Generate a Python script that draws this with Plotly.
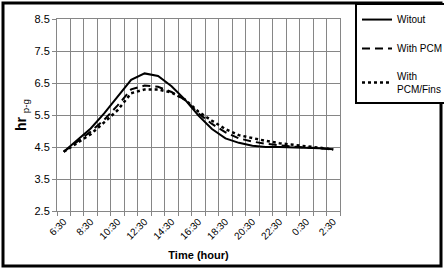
import plotly.graph_objects as go

categories = ["6:30", "7:30", "8:30", "9:30", "10:30", "11:30", "12:30", "13:30", "14:30",
              "15:30", "16:30", "17:30", "18:30", "19:30", "20:30", "21:30", "22:30",
              "23:30", "0:30", "1:30", "2:30"]
witout = [4.35, 4.72, 5.08, 5.55, 6.08, 6.6, 6.8, 6.72, 6.4, 5.98, 5.48, 5.06, 4.77, 4.63,
          4.54, 4.5, 4.5, 4.49, 4.48, 4.46, 4.43]
with_pcm = [4.35, 4.67, 4.98, 5.35, 5.8, 6.3, 6.42, 6.38, 6.22, 5.97, 5.55, 5.22, 4.96,
            4.77, 4.67, 4.6, 4.55, 4.51, 4.49, 4.46, 4.43]
with_fins = [4.35, 4.62, 4.9, 5.27, 5.65, 6.18, 6.3, 6.3, 6.2, 5.98, 5.6, 5.32, 5.06,
             4.87, 4.77, 4.69, 4.62, 4.56, 4.52, 4.48, 4.42]
y_ticks = [2.5, 3.5, 4.5, 5.5, 6.5, 7.5, 8.5]

xs = list(range(len(categories)))
font = "Liberation Sans, Arial, sans-serif"

fig = go.Figure()
fig.add_trace(go.Scatter(x=xs, y=witout, mode="lines", name="Witout", legendgroup="a",
                         line=dict(color="black", width=2)))
fig.add_trace(go.Scatter(x=xs, y=with_pcm, mode="lines", name="With PCM", legendgroup="b",
                         line=dict(color="black", width=2, dash="8px,5px")))
fig.add_trace(go.Scatter(x=xs, y=with_fins, mode="lines", name="With<br>PCM/Fins", legendgroup="c",
                         line=dict(color="black", width=2.5, dash="dot")))

fig.update_layout(
    width=444, height=269,
    margin=dict(l=57, r=104, t=19, b=58, autoexpand=False),
    paper_bgcolor="white", plot_bgcolor="white",
    font=dict(family=font, size=10, color="black"),
    showlegend=True,
    legend=dict(x=1.053, y=1.083, xanchor="left", yanchor="top",
                bordercolor="black", borderwidth=2, bgcolor="white",
                font=dict(size=10), tracegroupgap=10, itemwidth=30),
    xaxis=dict(
        range=[-0.5, len(categories) - 0.5],
        tickmode="array", tickvals=xs[::2], ticktext=categories[::2],
        tickangle=-45, ticks="", showgrid=False,
        showline=True, linecolor="#868686", mirror=True, zeroline=False,
        minor=dict(tick0=-0.5, dtick=1, showgrid=True, gridcolor="#868686", gridwidth=1,
                   ticks="outside", ticklen=4, tickcolor="#868686"),
        title=dict(text="<b>Time (hour)</b>", font=dict(size=11), standoff=10),
        tickfont=dict(size=10),
    ),
    yaxis=dict(
        range=[2.5, 8.5], tickmode="array", tickvals=y_ticks,
        ticktext=[f"{v:.1f}" for v in y_ticks],
        showgrid=True, gridcolor="#868686", gridwidth=1,
        showline=True, linecolor="#868686", mirror=True, zeroline=False,
        ticks="outside", ticklen=4, tickcolor="#868686",
        title=dict(text="<b>hr</b> <sub>p-g</sub>", font=dict(size=14), standoff=4),
        tickfont=dict(size=11),
    ),
    shapes=[dict(type="rect", xref="paper", yref="paper",
                 x0=-0.1908, x1=1.3569, y0=-0.2865, y1=1.0833,
                 line=dict(color="black", width=3), fillcolor="rgba(0,0,0,0)")],
)

fig.write_html("out.html", config={"displayModeBar": False},
               post_script="document.body.style.margin='0';document.body.style.overflow='hidden';")
